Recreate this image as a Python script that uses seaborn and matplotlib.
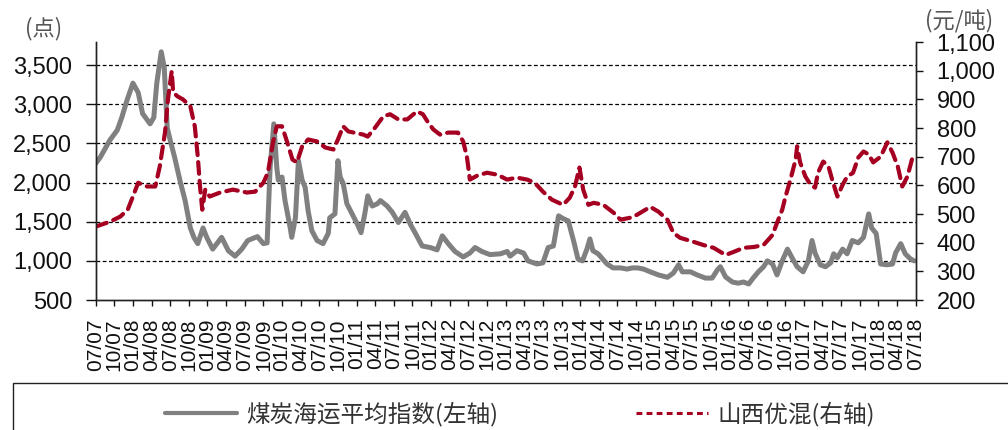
import matplotlib
matplotlib.use('Agg')
import matplotlib.pyplot as plt
import seaborn as sns
from matplotlib.lines import Line2D
from matplotlib.patches import Rectangle

# 煤炭海运平均指数 (left axis), time in decimal years
coal_t = [2007.50, 2007.56, 2007.69, 2007.79, 2007.85, 2007.92, 2008.00, 2008.07, 2008.13, 2008.23,
          2008.28, 2008.32, 2008.38, 2008.42, 2008.46, 2008.50, 2008.56, 2008.63, 2008.70, 2008.77,
          2008.82, 2008.87, 2008.94, 2008.99, 2009.07, 2009.19, 2009.28, 2009.37, 2009.46, 2009.54,
          2009.67, 2009.75, 2009.80, 2009.84, 2009.89, 2009.93, 2009.95, 2010.00, 2010.04, 2010.11,
          2010.13, 2010.18, 2010.22, 2010.27, 2010.31, 2010.35, 2010.40, 2010.47, 2010.55, 2010.62,
          2010.64, 2010.71, 2010.75, 2010.78, 2010.82, 2010.87, 2010.94, 2011.01, 2011.06, 2011.11,
          2011.15, 2011.21, 2011.28, 2011.32, 2011.41, 2011.48, 2011.56, 2011.65, 2011.72, 2011.79,
          2011.88, 2011.99, 2012.08, 2012.15, 2012.23, 2012.32, 2012.43, 2012.52, 2012.59, 2012.68,
          2012.79, 2012.93, 2013.02, 2013.06, 2013.15, 2013.24, 2013.30, 2013.42, 2013.50, 2013.57,
          2013.64, 2013.71, 2013.77, 2013.84, 2013.91, 2013.97, 2014.03, 2014.09, 2014.13, 2014.17,
          2014.24, 2014.30, 2014.36, 2014.44, 2014.54, 2014.63, 2014.70, 2014.77, 2014.85, 2014.94,
          2015.05, 2015.17, 2015.25, 2015.32, 2015.37, 2015.48, 2015.57, 2015.68, 2015.77, 2015.84,
          2015.88, 2015.95, 2016.04, 2016.12, 2016.19, 2016.26, 2016.32, 2016.39, 2016.46, 2016.51,
          2016.58, 2016.64, 2016.71, 2016.78, 2016.85, 2016.91, 2016.99, 2017.06, 2017.11, 2017.15,
          2017.22, 2017.29, 2017.36, 2017.40, 2017.45, 2017.52, 2017.58, 2017.65, 2017.73, 2017.80,
          2017.87, 2017.91, 2017.97, 2018.03, 2018.12, 2018.19, 2018.23, 2018.30, 2018.36, 2018.43,
          2018.48]
coal_v = [2243, 2320, 2540, 2670, 2830, 3050, 3270, 3150, 2880, 2750,
          2830, 3270, 3670, 3470, 2700, 2540, 2320, 2030, 1770, 1420,
          1295, 1220, 1420, 1300, 1150, 1300, 1130, 1060, 1150, 1260,
          1310, 1220, 1230, 2190, 2750, 2190, 2030, 2070, 1770, 1420,
          1300, 1550, 2280, 2030, 1940, 1640, 1385, 1260, 1220, 1350,
          1550, 1600, 2280, 2070, 1990, 1730, 1600, 1470, 1360, 1600,
          1830, 1700, 1730, 1770, 1700, 1620, 1490, 1620, 1470, 1350,
          1190, 1170, 1140, 1320, 1220, 1120, 1050, 1100, 1170, 1120,
          1080, 1090, 1120, 1060, 1130, 1100, 1000, 960, 975, 1170,
          1190, 1575, 1540, 1510, 1260, 1025, 1000, 1150, 1280, 1130,
          1090, 1025, 960, 910, 910, 895, 910, 910, 895, 860,
          820, 790, 845, 950, 860, 860, 820, 780, 780, 885,
          925, 795, 730, 715, 730, 705, 780, 860, 925, 1000,
          960, 820, 1000, 1150, 1025, 925, 860, 1000, 1260, 1100,
          950, 925, 975, 1090, 1040, 1150, 1090, 1260, 1230, 1300,
          1600, 1420, 1350, 960, 950, 960, 1100, 1220, 1090, 1025,
          1000]

# 山西优混 (right axis)
shanxi_t = [2007.50, 2007.69, 2007.83, 2007.93, 2008.00, 2008.07, 2008.19, 2008.30, 2008.36, 2008.43,
            2008.47, 2008.52, 2008.54, 2008.60, 2008.67, 2008.77, 2008.83, 2008.87, 2008.90, 2008.93,
            2008.97, 2009.03, 2009.17, 2009.34, 2009.53, 2009.64, 2009.75, 2009.81, 2009.88, 2009.93,
            2010.00, 2010.07, 2010.14, 2010.20, 2010.27, 2010.35, 2010.47, 2010.58, 2010.69, 2010.75,
            2010.82, 2010.89, 2011.09, 2011.15, 2011.25, 2011.36, 2011.45, 2011.56, 2011.68, 2011.81,
            2011.89, 2011.96, 2012.03, 2012.12, 2012.23, 2012.36, 2012.43, 2012.48, 2012.52, 2012.62,
            2012.75, 2012.89, 2013.02, 2013.15, 2013.29, 2013.39, 2013.50, 2013.62, 2013.77, 2013.86,
            2013.93, 2013.99, 2014.04, 2014.11, 2014.18, 2014.31, 2014.45, 2014.54, 2014.67, 2014.76,
            2014.94, 2015.05, 2015.17, 2015.25, 2015.34, 2015.52, 2015.65, 2015.79, 2015.88, 2015.95,
            2016.06, 2016.19, 2016.33, 2016.46, 2016.58, 2016.64, 2016.71, 2016.75, 2016.82, 2016.89,
            2016.91, 2016.95, 2017.02, 2017.09, 2017.15, 2017.19, 2017.26, 2017.33, 2017.38, 2017.45,
            2017.52, 2017.58, 2017.66, 2017.73, 2017.80, 2017.87, 2017.93, 2018.03, 2018.12, 2018.19,
            2018.26, 2018.32, 2018.39, 2018.45, 2018.48]
shanxi_v = [456, 473, 491, 515, 561, 609, 596, 596, 666, 784,
            900, 998, 924, 910, 900, 876, 806, 700, 596, 515,
            585, 561, 575, 585, 575, 578, 609, 644, 750, 806,
            806, 750, 690, 680, 736, 760, 753, 732, 725, 760,
            806, 788, 777, 770, 802, 841, 848, 830, 830, 858,
            848, 819, 795, 777, 784, 784, 753, 700, 620, 634,
            644, 637, 620, 627, 620, 609, 578, 550, 532, 557,
            596, 662, 585, 532, 539, 532, 504, 480, 487, 497,
            525, 508, 480, 434, 417, 403, 392, 382, 368, 357,
            368, 382, 385, 392, 427, 469, 515, 557, 620, 690,
            736, 680, 631, 602, 592, 644, 683, 666, 620, 561,
            602, 630, 644, 697, 718, 708, 680, 700, 750, 714,
            666, 596, 631, 690, 708]

# quarterly category ticks, labelled mm/yy
tick_pos = [2007.5 + 0.25 * k for k in range(45)]
tick_labels = ['%02d/%02d' % ((7 + 3 * k) % 12 or 12, (7 + (6 + 3 * k) // 12) % 100) for k in range(45)]

left_ticks = [500, 1000, 1500, 2000, 2500, 3000, 3500]
right_ticks = [200, 300, 400, 500, 600, 700, 800, 900, 1000, 1100]

sns.set_style('ticks')
plt.rcParams['font.family'] = ['Liberation Sans', 'Noto Sans CJK SC', 'DejaVu Sans']

fig = plt.figure(figsize=(10.08, 4.30), dpi=100)
ax = fig.add_axes([0.0949, 0.3023, 0.8135, 0.6000])
ax2 = ax.twinx()

gray = '#808080'
red = '#A50021'

sns.lineplot(x=coal_t, y=coal_v, ax=ax, color=gray, linewidth=3.6, solid_joinstyle='round')
sns.lineplot(x=shanxi_t, y=shanxi_v, ax=ax2, color=red, linewidth=3.0,
             dashes=False, linestyle=(0, (2.8, 1.7)), dash_capstyle='round')

ax.set_xlim(2007.5, 2018.5)
ax.set_ylim(500, 3795)
ax2.set_ylim(200, 1100)

ax.set_yticks(left_ticks)
ax.set_yticklabels([f'{v:,}' for v in left_ticks], fontsize=17, color='#111111')
ax2.set_yticks(right_ticks)
ax2.set_yticklabels([f'{v:,}' for v in right_ticks], fontsize=17, color='#111111')
ax.set_xticks(tick_pos)
ax.set_xticklabels(tick_labels, rotation=90, fontsize=15, color='#111111')

ax.tick_params(axis='y', direction='out', length=7, width=1, pad=10, colors='#111111')
ax2.tick_params(axis='y', direction='out', length=5, width=1, pad=10, colors='#111111')
ax.tick_params(axis='x', direction='out', length=4, width=1, pad=9, colors='#111111')

for gv in left_ticks[1:]:
    ax.axhline(gv, color='black', linewidth=0.9, linestyle=(0, (3, 2)), zorder=0)

for a in (ax, ax2):
    a.spines['top'].set_visible(False)
    for s in ('left', 'right', 'bottom'):
        a.spines[s].set_color('#222222')
        a.spines[s].set_linewidth(1.0)
    a.set_xlabel('')
    a.set_ylabel('')
    a.grid(False)

fig.text(0.043, 0.933, '(点)', fontsize=16, color='#555555', ha='center', va='center',
         family=['Noto Sans CJK SC'])
fig.text(0.951, 0.951, '(元/吨)', fontsize=16, color='#555555', ha='center', va='center',
         family=['Noto Sans CJK SC'])

# legend box
fig.patches.append(Rectangle((0.0129, -0.2), 1.2, 0.2 + 0.1093, transform=fig.transFigure,
                             fill=False, edgecolor='#222222', linewidth=1.0, clip_on=False))
handles = [Line2D([], [], color=gray, linewidth=3.0),
           Line2D([], [], color=red, linewidth=2.2, linestyle=(0, (1.9, 1.4)))]
fig.legend(handles, ['煤炭海运平均指数(左轴)', '山西优混(右轴)'], loc='center',
           bbox_to_anchor=(0.516, 0.037), ncol=2, frameon=False, handlelength=3.05,
           handletextpad=0.38, columnspacing=5.85,
           prop={'family': ['Noto Sans CJK SC'], 'size': 17}, labelcolor='#333333')

fig.savefig('out.png', dpi=100)
